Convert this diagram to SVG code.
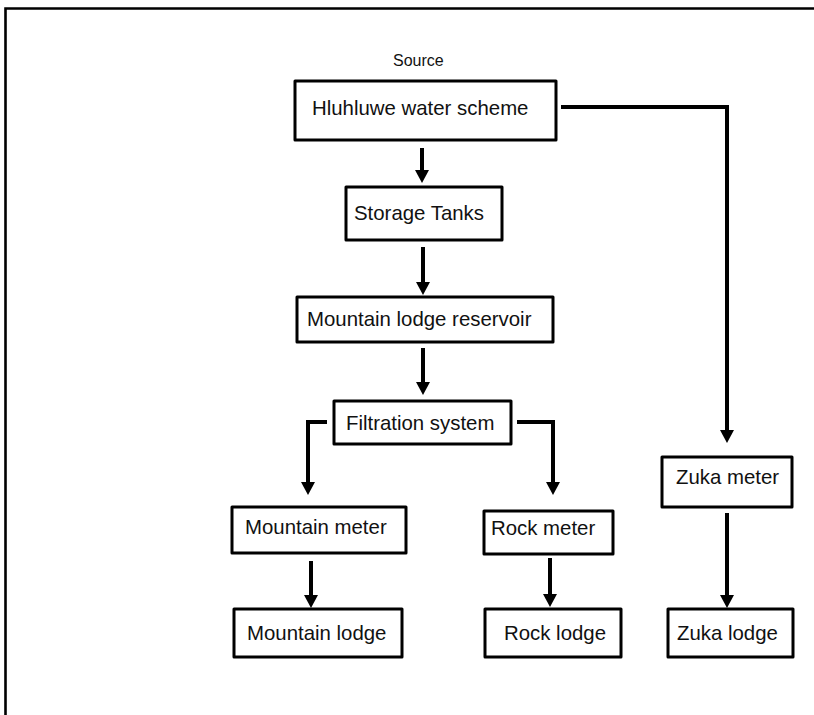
<svg xmlns="http://www.w3.org/2000/svg" width="814" height="715" viewBox="0 0 814 715">
  <defs>
    <marker id="head" markerUnits="userSpaceOnUse" markerWidth="14" markerHeight="14" viewBox="0 0 13 14" refX="3" refY="7" orient="auto">
      <path d="M0,0 L13,7 L0,14 z" fill="#000"/>
    </marker>
    <style>
      .box { fill: #fff; stroke: #000; stroke-width: 3; stroke-linejoin: round; }
      .lbl { font-family: "Liberation Sans", Arial, sans-serif; font-size: 20.4px; fill: #111; }
      .cap { font-family: "Liberation Sans", Arial, sans-serif; font-size: 16px; fill: #111; }
      .wire { fill: none; stroke: #000; stroke-width: 4; marker-end: url(#head); }
      .frame { fill: none; stroke: #000; stroke-width: 2.6; }
    </style>
  </defs>

  <rect width="814" height="715" fill="#fff"/>

  <!-- page frame: top and left edges -->
  <path class="frame" d="M5.5,715 V8.5 H814"/>

  <text class="cap" x="393" y="66">Source</text>

  <!-- connectors -->
  <g id="connectors">
    <path class="wire" d="M422,148 V173"/>
    <path class="wire" d="M423,247 V285"/>
    <path class="wire" d="M423,348 V385"/>
    <path class="wire" d="M327,422 H308 V485"/>
    <path class="wire" d="M517,422 H553 V485"/>
    <path class="wire" d="M311,561 V598"/>
    <path class="wire" d="M550,558 V597"/>
    <path class="wire" d="M561,107 H727 V433"/>
    <path class="wire" d="M727,513 V598"/>
  </g>

  <g id="hluhluwe">
    <rect class="box" x="295" y="81" width="261" height="59"/>
    <text class="lbl" x="312" y="115">Hluhluwe water scheme</text>
  </g>
  <g id="storage">
    <rect class="box" x="346" y="187" width="156" height="53"/>
    <text class="lbl" x="354" y="220">Storage Tanks</text>
  </g>
  <g id="reservoir">
    <rect class="box" x="297" y="297" width="256" height="45"/>
    <text class="lbl" x="307" y="326">Mountain lodge reservoir</text>
  </g>
  <g id="filtration">
    <rect class="box" x="334" y="401" width="177" height="43"/>
    <text class="lbl" x="346" y="430">Filtration system</text>
  </g>
  <g id="mountain-meter">
    <rect class="box" x="232" y="507" width="174" height="46"/>
    <text class="lbl" x="245" y="534">Mountain meter</text>
  </g>
  <g id="rock-meter">
    <rect class="box" x="484" y="511" width="129" height="43"/>
    <text class="lbl" x="491" y="535">Rock meter</text>
  </g>
  <g id="mountain-lodge">
    <rect class="box" x="234" y="609" width="168" height="48"/>
    <text class="lbl" x="247" y="640">Mountain lodge</text>
  </g>
  <g id="rock-lodge">
    <rect class="box" x="485" y="609" width="136" height="48"/>
    <text class="lbl" x="504" y="640">Rock lodge</text>
  </g>
  <g id="zuka-meter">
    <rect class="box" x="662" y="457" width="130" height="50"/>
    <text class="lbl" x="676" y="484">Zuka meter</text>
  </g>
  <g id="zuka-lodge">
    <rect class="box" x="668" y="609" width="125" height="48"/>
    <text class="lbl" x="677" y="640">Zuka lodge</text>
  </g>
</svg>
